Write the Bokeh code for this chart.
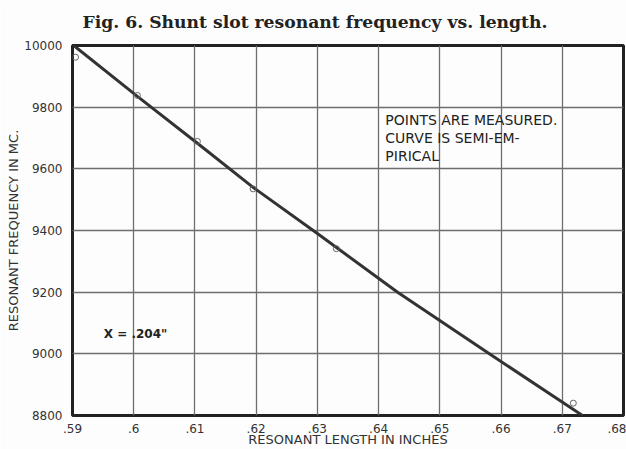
from bokeh.plotting import figure
from bokeh.models import FixedTicker, Label, Range1d
from bokeh.embed import file_html
from bokeh.resources import INLINE

# Data
x_ticks = [0.59, 0.60, 0.61, 0.62, 0.63, 0.64, 0.65, 0.66, 0.67, 0.68]
x_tick_labels = [".59", ".6", ".61", ".62", ".63", ".64", ".65", ".66", ".67", ".68"]
y_ticks = [8800, 9000, 9200, 9400, 9600, 9800, 10000]
y_tick_labels = ["8800", "9000", "9200", "9400", "9600", "9800", "10000"]

curve_len = [0.5902, 0.6006, 0.6104, 0.6195, 0.6300, 0.6431, 0.6587, 0.6733]
curve_freq = [10000, 9835, 9683, 9540, 9390, 9200, 8992, 8800]

# Measured points
meas_len = [0.5905, 0.6006, 0.6104, 0.6195, 0.6331, 0.6718]
meas_freq = [9962, 9838, 9689, 9535, 9341, 8840]

p = figure(width=626, height=449, output_backend="svg", toolbar_location=None,
           x_range=Range1d(0.59, 0.68), y_range=Range1d(8800, 10000),
           min_border_left=72, min_border_right=3, min_border_top=45, min_border_bottom=34,
           background_fill_color="#fdfdfd", border_fill_color="#fdfdfd")

p.title.text = "Fig. 6. Shunt slot resonant frequency vs. length."
p.title.text_font = "DejaVu Serif"
p.title.text_font_size = "17.2px"
p.title.text_font_style = "bold"
p.title.text_color = "#222222"
p.title.align = "left"
p.title.vertical_align = "top"
p.title.offset = 10
p.title.standoff = 23

p.outline_line_color = "#222222"
p.outline_line_width = 3

for ax in (p.xaxis, p.yaxis):
    ax.axis_line_color = None
    ax.major_tick_line_color = None
    ax.minor_tick_line_color = None
    ax.major_tick_out = 0
    ax.major_tick_in = 0
    ax.minor_tick_out = 0
    ax.minor_tick_in = 0
    ax.major_label_text_font = "DejaVu Sans"
    ax.major_label_text_font_size = "12px"
    ax.major_label_text_color = "#333333"
    ax.axis_label_text_font = "DejaVu Sans"
    ax.axis_label_text_font_size = "13px"
    ax.axis_label_text_font_style = "normal"
    ax.axis_label_text_color = "#333333"

p.xaxis.ticker = FixedTicker(ticks=x_ticks)
p.xaxis.major_label_overrides = dict(zip(x_ticks, x_tick_labels))
p.yaxis.ticker = FixedTicker(ticks=y_ticks)
p.yaxis.major_label_overrides = dict(zip(y_ticks, y_tick_labels))
p.xaxis.major_label_standoff = 8
p.yaxis.major_label_standoff = 10
p.xaxis.axis_label = "RESONANT LENGTH IN INCHES"
p.yaxis.axis_label = "RESONANT FREQUENCY IN MC."
p.xaxis.axis_label_standoff = -4
p.yaxis.axis_label_standoff = 0

p.xgrid.ticker = FixedTicker(ticks=x_ticks)
p.ygrid.ticker = FixedTicker(ticks=y_ticks)
p.grid.grid_line_color = "#6e6e6e"
p.grid.grid_line_width = 1.3

p.line(curve_len, curve_freq, line_color="#333333", line_width=3)
p.scatter(meas_len, meas_freq, size=6, marker="circle", fill_color=None,
          line_color="#666666", line_width=1)

note_lines = ["POINTS ARE MEASURED.", "CURVE IS SEMI-EM-", "PIRICAL"]
note_y = [9757, 9700, 9643]
for t, yy in zip(note_lines, note_y):
    p.add_layout(Label(x=0.6411, y=yy, text=t, text_font="DejaVu Sans",
                       text_font_size="14px", text_color="#222222",
                       text_baseline="middle", text_align="left"))

p.add_layout(Label(x=0.5951, y=9063, text='X = .204"', text_font="DejaVu Sans",
                   text_font_size="12px", text_font_style="bold", text_color="#222222",
                   text_baseline="middle", text_align="left"))

open("out.html", "w").write(file_html(p, INLINE))
